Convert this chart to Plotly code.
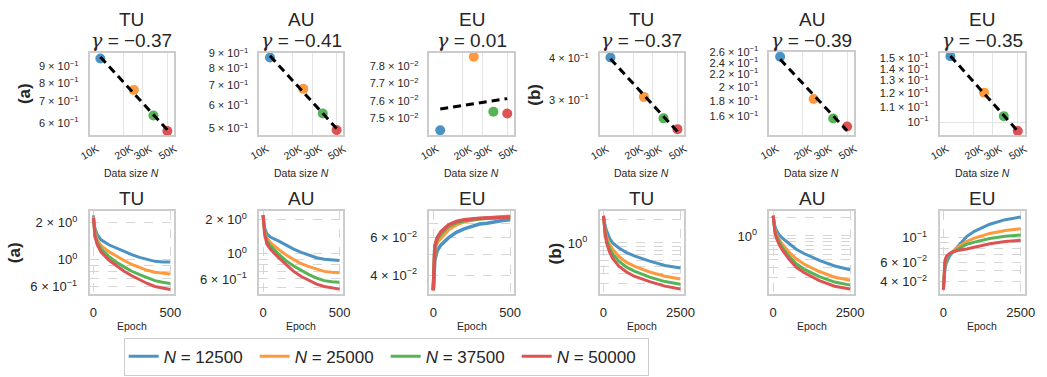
import numpy as np
import plotly.graph_objects as go

W, H = 1047, 377

# ---------------- data ----------------
N_SIZES = [12500, 25000, 37500, 50000]
LEGEND_NAMES = ["<i>N</i> = 12500", "<i>N</i> = 25000", "<i>N</i> = 37500", "<i>N</i> = 50000"]
TITLES = ["TU", "AU", "EU", "TU", "AU", "EU"]
GAMMA_LABELS = ["−0.37", "−0.41", "0.01", "−0.37", "−0.39", "−0.35"]
ROW_TAGS = ["(a)", "(b)"]

# top row: final uncertainty per data size
TU_A_FINAL = [0.952, 0.761, 0.634, 0.567]
AU_A_FINAL = [0.873, 0.682, 0.562, 0.493]
EU_A_FINAL = [0.07433, 0.07857, 0.07538, 0.07527]
TU_B_FINAL = [0.4027, 0.306, 0.2634, 0.2443]
AU_B_FINAL = [0.251, 0.1823, 0.1573, 0.1480]
EU_B_FINAL = [0.1515, 0.1204, 0.1038, 0.0945]

DATA_TICKS = [10000, 20000, 30000, 50000]
DATA_TICK_TEXT = ["10K", "20K", "30K", "50K"]

# top row y tick labels
TOP_YTICKS = [
    ([0.6, 0.7, 0.8, 0.9], ["6 × 10<sup>−1</sup>", "7 × 10<sup>−1</sup>", "8 × 10<sup>−1</sup>", "9 × 10<sup>−1</sup>"]),
    ([0.5, 0.6, 0.7, 0.8, 0.9], ["5 × 10<sup>−1</sup>", "6 × 10<sup>−1</sup>", "7 × 10<sup>−1</sup>", "8 × 10<sup>−1</sup>", "9 × 10<sup>−1</sup>"]),
    ([0.075, 0.076, 0.077, 0.078], ["7.5 × 10<sup>−2</sup>", "7.6 × 10<sup>−2</sup>", "7.7 × 10<sup>−2</sup>", "7.8 × 10<sup>−2</sup>"]),
    ([0.3, 0.4], ["3 × 10<sup>−1</sup>", "4 × 10<sup>−1</sup>"]),
    ([0.16, 0.18, 0.2, 0.22, 0.24, 0.26], ["1.6 × 10<sup>−1</sup>", "1.8 × 10<sup>−1</sup>", "2 × 10<sup>−1</sup>", "2.2 × 10<sup>−1</sup>", "2.4 × 10<sup>−1</sup>", "2.6 × 10<sup>−1</sup>"]),
    ([0.1, 0.11, 0.12, 0.13, 0.14, 0.15], ["10<sup>−1</sup>", "1.1 × 10<sup>−1</sup>", "1.2 × 10<sup>−1</sup>", "1.3 × 10<sup>−1</sup>", "1.4 × 10<sup>−1</sup>", "1.5 × 10<sup>−1</sup>"]),
]
TOP_YRANGE = [(0.551, 0.993), (0.474, 0.907), (0.07406, 0.07881),
              (0.2344, 0.4168), (0.1388, 0.2606), (0.0921, 0.155)]
TOP_YGRID = [[], [], [], [], [], [0.1]]

# bottom row: training curves
EPOCHS_A = [0, 10, 25, 50, 100, 150, 200, 250, 300, 350, 400, 450, 500]
EPOCHS_A_EU = [0, 5, 10, 25, 50, 100, 150, 200, 250, 300, 350, 400, 450, 500]
EPOCHS_B = [0, 25, 50, 100, 200, 300, 500, 750, 1000, 1500, 2000, 2500]

TU_A_CURVES = [
    [2.3, 1.8, 1.6, 1.45, 1.32, 1.24, 1.16, 1.095, 1.04, 0.995, 0.965, 0.955, 0.952],
    [2.25, 1.7, 1.45, 1.3, 1.16, 1.06, 0.98, 0.91, 0.86, 0.815, 0.785, 0.77, 0.761],
    [2.2, 1.6, 1.38, 1.22, 1.06, 0.95, 0.87, 0.80, 0.75, 0.705, 0.67, 0.65, 0.636],
    [2.2, 1.55, 1.32, 1.15, 0.99, 0.885, 0.80, 0.735, 0.68, 0.635, 0.60, 0.58, 0.567],
]
AU_A_CURVES = [
    [2.2, 1.7, 1.5, 1.4, 1.3, 1.19, 1.1, 1.03, 0.97, 0.925, 0.895, 0.88, 0.873],
    [2.2, 1.6, 1.38, 1.25, 1.1, 0.98, 0.89, 0.82, 0.77, 0.73, 0.70, 0.688, 0.682],
    [2.2, 1.55, 1.3, 1.17, 1.0, 0.87, 0.78, 0.71, 0.655, 0.61, 0.58, 0.567, 0.562],
    [2.2, 1.5, 1.22, 1.09, 0.93, 0.80, 0.70, 0.63, 0.58, 0.54, 0.515, 0.50, 0.488],
]
EU_A_CURVES = [
    [0.034, 0.042, 0.047, 0.052, 0.0555, 0.060, 0.0635, 0.066, 0.068, 0.0695, 0.070, 0.0712, 0.0722, 0.0728],
    [0.034, 0.046, 0.052, 0.057, 0.060, 0.0655, 0.069, 0.0712, 0.0725, 0.0735, 0.0742, 0.0748, 0.0752, 0.0755],
    [0.034, 0.048, 0.054, 0.059, 0.0625, 0.068, 0.0705, 0.072, 0.073, 0.0735, 0.074, 0.0743, 0.0745, 0.0747],
    [0.034, 0.049, 0.055, 0.060, 0.064, 0.069, 0.0715, 0.0728, 0.0735, 0.074, 0.0742, 0.0745, 0.0748, 0.075],
]
TU_B_CURVES = [
    [2.25, 1.9, 1.7, 1.45, 1.15, 1.0, 0.86, 0.75, 0.68, 0.58, 0.51, 0.473],
    [2.25, 1.75, 1.5, 1.2, 0.95, 0.83, 0.67, 0.56, 0.50, 0.42, 0.37, 0.34],
    [2.25, 1.7, 1.42, 1.1, 0.85, 0.72, 0.58, 0.485, 0.43, 0.36, 0.315, 0.29],
    [2.25, 1.6, 1.35, 1.0, 0.76, 0.63, 0.50, 0.42, 0.37, 0.315, 0.275, 0.253],
]
AU_B_CURVES = [
    [2.18, 1.75, 1.5, 1.25, 1.04, 0.92, 0.75, 0.60, 0.51, 0.39, 0.315, 0.273],
    [2.18, 1.6, 1.35, 1.08, 0.86, 0.73, 0.55, 0.415, 0.34, 0.255, 0.205, 0.183],
    [2.18, 1.55, 1.28, 1.0, 0.78, 0.64, 0.47, 0.345, 0.28, 0.21, 0.17, 0.151],
    [2.18, 1.5, 1.22, 0.94, 0.71, 0.58, 0.42, 0.30, 0.245, 0.18, 0.145, 0.130],
]
EU_B_CURVES = [
    [0.034, 0.045, 0.052, 0.060, 0.068, 0.074, 0.085, 0.102, 0.114, 0.132, 0.145, 0.1535],
    [0.034, 0.050, 0.058, 0.065, 0.071, 0.075, 0.083, 0.092, 0.099, 0.109, 0.116, 0.120],
    [0.034, 0.052, 0.060, 0.066, 0.071, 0.074, 0.080, 0.087, 0.091, 0.098, 0.103, 0.1056],
    [0.034, 0.054, 0.062, 0.068, 0.072, 0.074, 0.077, 0.079, 0.082, 0.088, 0.092, 0.0947],
]

BOT_YTICKS = [
    ([0.6, 0.7, 0.8, 0.9, 1, 2], ["6 × 10<sup>−1</sup>", "", "", "", "10<sup>0</sup>", "2 × 10<sup>0</sup>"]),
    ([0.5, 0.6, 0.7, 0.8, 0.9, 1, 2], ["", "6 × 10<sup>−1</sup>", "", "", "", "10<sup>0</sup>", "2 × 10<sup>0</sup>"]),
    ([0.04, 0.05, 0.06, 0.07], ["4 × 10<sup>−2</sup>", "", "6 × 10<sup>−2</sup>", ""]),
    ([0.3, 0.4, 0.5, 0.6, 0.7, 0.8, 0.9, 1, 2], ["", "", "", "", "", "", "", "10<sup>0</sup>", ""]),
    ([0.2, 0.3, 0.4, 0.5, 0.6, 0.7, 0.8, 0.9, 1, 2], ["", "", "", "", "", "", "", "", "10<sup>0</sup>", ""]),
    ([0.04, 0.05, 0.06, 0.07, 0.08, 0.09, 0.1], ["4 × 10<sup>−2</sup>", "", "6 × 10<sup>−2</sup>", "", "", "", "10<sup>−1</sup>"]),
]
BOT_YRANGE = [(0.522, 2.48), (0.443, 2.37), (0.0327, 0.0796),
              (0.218, 2.57), (0.108, 2.57), (0.0311, 0.172)]
EPOCH_TICKS_A = [0, 500]
EPOCH_TICKS_B = [0, 2500]
EPOCH_RANGE_A = (-25, 525)
EPOCH_RANGE_B = (-125, 2625)

SCALING = [TU_A_FINAL, AU_A_FINAL, EU_A_FINAL, TU_B_FINAL, AU_B_FINAL, EU_B_FINAL]
CURVES = [TU_A_CURVES, AU_A_CURVES, EU_A_CURVES, TU_B_CURVES, AU_B_CURVES, EU_B_CURVES]
CURVE_EPOCHS = [EPOCHS_A, EPOCHS_A, EPOCHS_A_EU, EPOCHS_B, EPOCHS_B, EPOCHS_B]

# ---------------- style / layout ----------------
COLORS = ['#4c92c3', '#ff993e', '#56b356', '#de5253']
FONT = 'Liberation Sans, Arial, sans-serif'
TXT = '#262626'
FRAME = '#cccccc'
GRID = '#e3e3e3'
DGRID = '#d6d6d6'

COL_X = [(90.5, 176), (262, 347), (434, 519.5), (606, 691.5), (777.5, 863), (949.5, 1035.5)]
TOP_Y = (46.5, 130.5)
BOT_Y = (208.3, 292.3)
TOP_Y_AUB = (45.6, 130.5)


def px_dom_x(a, b):
    return [a / W, b / W]


def px_dom_y(top, bot):
    return [1 - bot / H, 1 - top / H]


fig = go.Figure()
layout = {}
annotations = []

for c in range(6):
    cx = (COL_X[c][0] + COL_X[c][1]) / 2
    # ---------- top row ----------
    k = c + 1
    xs = 'x' if k == 1 else f'x{k}'
    ys = 'y' if k == 1 else f'y{k}'
    vals = SCALING[c]
    for i in range(4):
        fig.add_trace(go.Scatter(x=[N_SIZES[i]], y=[vals[i]], mode='markers',
                                 marker=dict(size=10, color=COLORS[i], line=dict(width=0)),
                                 xaxis=xs, yaxis=ys, showlegend=False, hoverinfo='skip'))
    lx = np.log10(N_SIZES)
    ly = np.log10(vals)
    slope, icpt = np.polyfit(lx, ly, 1)
    xf = np.array([min(N_SIZES), max(N_SIZES)], dtype=float)
    yf = 10 ** (icpt + slope * np.log10(xf))
    fig.add_trace(go.Scatter(x=xf, y=yf, mode='lines',
                             line=dict(color='black', width=3, dash='8px,5px'),
                             xaxis=xs, yaxis=ys, showlegend=False, hoverinfo='skip'))
    layout['xaxis' if k == 1 else f'xaxis{k}'] = dict(
        domain=px_dom_x(*COL_X[c]), anchor=ys, type='log',
        range=[4.0, 4.76], tickmode='array', tickvals=DATA_TICKS,
        showticklabels=False, ticks='', showgrid=True, gridcolor=GRID, gridwidth=1,
        showline=True, mirror=True, linecolor=FRAME, linewidth=1.5, zeroline=False)
    tv, tt = TOP_YTICKS[c]
    yax = dict(domain=px_dom_y(*TOP_Y), anchor=xs, type='log',
               range=[np.log10(TOP_YRANGE[c][0]), np.log10(TOP_YRANGE[c][1])],
               tickmode='array', tickvals=tv, ticktext=tt, ticks='', showgrid=False,
               tickfont=dict(family=FONT, size=11, color=TXT), ticklabelstandoff=7,
               showline=True, mirror=True, linecolor=FRAME, linewidth=1.5, zeroline=False)
    if TOP_YGRID[c]:
        yax['minor'] = dict(tickmode='array', tickvals=TOP_YGRID[c], showgrid=True,
                            gridcolor=GRID, gridwidth=1, ticks='')
    layout['yaxis' if k == 1 else f'yaxis{k}'] = yax
    # rotated data-size tick labels
    for tvx, ttx in zip(DATA_TICKS, DATA_TICK_TEXT):
        annotations.append(dict(x=np.log10(tvx), xref=xs, y=1 - 147.5 / H, yref='paper',
                                text=ttx, showarrow=False, textangle=-30,
                                xanchor='center', yanchor='middle',
                                font=dict(family=FONT, size=10.5, color=TXT)))
    annotations.append(dict(x=cx / W, y=1 - 169.5 / H, xref='paper', yref='paper',
                            text='Data size <i>N</i>', showarrow=False,
                            xanchor='center', yanchor='middle',
                            font=dict(family=FONT, size=10.5, color=TXT)))
    annotations.append(dict(x=cx / W, y=1 - 13 / H, xref='paper', yref='paper',
                            text=TITLES[c], showarrow=False, xanchor='center', yanchor='middle',
                            font=dict(family=FONT, size=19, color=TXT)))
    annotations.append(dict(x=cx / W, y=1 - 34 / H, xref='paper', yref='paper',
                            text='<span style="font-family:DejaVu Serif"><i>γ</i></span> = ' + GAMMA_LABELS[c],
                            showarrow=False, xanchor='center', yanchor='middle',
                            font=dict(family=FONT, size=19, color=TXT)))

    # ---------- bottom row ----------
    k = c + 7
    xs = f'x{k}'
    ys = f'y{k}'
    ep = CURVE_EPOCHS[c]
    lw = 3.5 if c == 2 else 3
    for i in range(4):
        fig.add_trace(go.Scatter(x=ep, y=CURVES[c][i], mode='lines',
                                 line=dict(color=COLORS[i], width=lw),
                                 name=LEGEND_NAMES[i], legendgroup=str(i),
                                 showlegend=(c == 0), xaxis=xs, yaxis=ys, hoverinfo='skip'))
    a_side = c < 3
    layout[f'xaxis{k}'] = dict(
        domain=px_dom_x(*COL_X[c]), anchor=ys,
        range=list(EPOCH_RANGE_A if a_side else EPOCH_RANGE_B),
        tickmode='array', tickvals=EPOCH_TICKS_A if a_side else EPOCH_TICKS_B,
        ticks='', tickfont=dict(family=FONT, size=13, color=TXT), ticklabelstandoff=6,
        showgrid=True, gridcolor=DGRID, gridwidth=1, griddash='dash',
        showline=True, mirror=True, linecolor=FRAME, linewidth=1.5, zeroline=False)
    tv, tt = BOT_YTICKS[c]
    layout[f'yaxis{k}'] = dict(
        domain=px_dom_y(*BOT_Y), anchor=xs, type='log',
        range=[np.log10(BOT_YRANGE[c][0]), np.log10(BOT_YRANGE[c][1])],
        tickmode='array', tickvals=tv, ticktext=tt, ticks='',
        tickfont=dict(family=FONT, size=13, color=TXT), ticklabelstandoff=8,
        showgrid=True, gridcolor=DGRID, gridwidth=1, griddash='dash',
        showline=True, mirror=True, linecolor=FRAME, linewidth=1.5, zeroline=False)
    annotations.append(dict(x=cx / W, y=1 - 195 / H, xref='paper', yref='paper',
                            text=TITLES[c], showarrow=False, xanchor='center', yanchor='middle',
                            font=dict(family=FONT, size=19, color=TXT)))
    annotations.append(dict(x=cx / W, y=1 - 325.5 / H, xref='paper', yref='paper',
                            text='Epoch', showarrow=False, xanchor='center', yanchor='middle',
                            font=dict(family=FONT, size=10.5, color=TXT)))

layout['yaxis5']['domain'] = px_dom_y(*TOP_Y_AUB)

# row tags
for (px, py, t) in [(25, 88, ROW_TAGS[0]), (15, 250, ROW_TAGS[0]),
                    (540, 89, ROW_TAGS[1]), (561, 251, ROW_TAGS[1])]:
    annotations.append(dict(x=px / W, y=1 - py / H, xref='paper', yref='paper',
                            text='<b>' + t + '</b>', showarrow=False, textangle=-90,
                            xanchor='center', yanchor='middle',
                            font=dict(family=FONT, size=17, color=TXT)))

fig.update_layout(
    width=W, height=H, margin=dict(l=0, r=0, t=0, b=0),
    paper_bgcolor='white', plot_bgcolor='white',
    annotations=annotations,
    showlegend=True,
    legend=dict(orientation='h', x=125 / W, xanchor='left', y=1 - 337 / H, yanchor='top',
                bordercolor=FRAME, borderwidth=1, bgcolor='white',
                font=dict(family='Liberation Sans Narrow, Liberation Sans, sans-serif', size=17, color=TXT),
                entrywidth=86, entrywidthmode='pixels'),
    **layout,
)

fig.write_html("out.html")
